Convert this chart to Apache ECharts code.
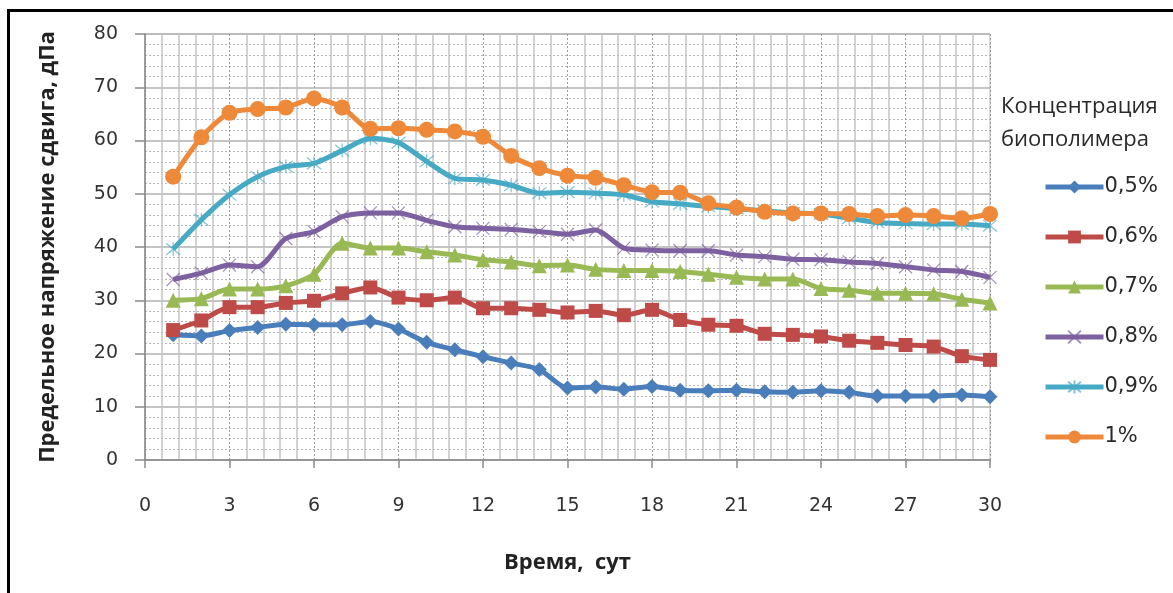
<!DOCTYPE html>
<html>
<head>
<meta charset="utf-8">
<script src="https://cdn.jsdelivr.net/npm/echarts@6/dist/echarts.min.js"></script>
<style>
  html, body { margin: 0; padding: 0; background: #fff; }
  #chart { width: 1173px; height: 593px; }
</style>
</head>
<body>
<div id="chart"></div>
<script>
// days on the x axis
var days = [1,2,3,4,5,6,7,8,9,10,11,12,13,14,15,16,17,18,19,20,21,22,23,24,25,26,27,28,29,30];

// yield stress, dPa, per biopolymer concentration
var c05 = [23.5,23.3,24.3,24.9,25.5,25.4,25.4,26.0,24.6,22.1,20.7,19.4,18.2,17.0,13.5,13.7,13.3,13.8,13.1,13.0,13.1,12.8,12.7,13.0,12.7,12.0,12.0,12.0,12.2,11.9];
var c06 = [24.4,26.2,28.7,28.7,29.5,29.9,31.3,32.4,30.5,30.0,30.5,28.5,28.5,28.2,27.7,28.0,27.2,28.2,26.3,25.4,25.2,23.7,23.5,23.2,22.4,22.0,21.6,21.3,19.5,18.8];
var c07 = [30.0,30.3,32.1,32.1,32.7,34.9,40.7,39.8,39.8,39.1,38.5,37.6,37.2,36.5,36.6,35.8,35.6,35.6,35.4,34.9,34.3,34.0,34.0,32.2,31.9,31.3,31.3,31.2,30.2,29.5];
var c08 = [33.9,35.1,36.6,36.3,41.6,42.9,45.7,46.4,46.4,45.0,43.8,43.5,43.3,42.9,42.4,43.2,39.8,39.4,39.3,39.3,38.5,38.2,37.7,37.6,37.2,36.9,36.3,35.7,35.4,34.3];
var c09 = [39.6,45.1,49.8,53.2,55.1,55.7,58.1,60.4,59.6,56.1,52.9,52.6,51.6,50.1,50.3,50.1,49.8,48.5,48.1,47.6,47.2,46.8,46.4,46.2,45.4,44.6,44.4,44.3,44.3,44.0];
var c10 = [53.2,60.6,65.2,65.9,66.2,67.9,66.2,62.2,62.3,62.0,61.7,60.7,57.1,54.8,53.4,53.0,51.6,50.3,50.2,48.2,47.4,46.6,46.3,46.3,46.2,45.8,46.0,45.8,45.4,46.2];

var seriesNames = ['0,5%', '0,6%', '0,7%', '0,8%', '0,9%', '1%'];
var seriesValues = [c05, c06, c07, c08, c09, c10];
var xTicks = [0, 3, 6, 9, 12, 15, 18, 21, 24, 27, 30];

var colors = ['#4A7EBB', '#BE4B48', '#98B954', '#7D60A0', '#46AAC5', '#EE893A'];
var symbols = [
  'diamond',
  'rect',
  'triangle',
  'path://M0,0L10,10M10,0L0,10',
  'path://M0,0L10,10M10,0L0,10M5,-1L5,11',
  'circle'
];
var sizes = [15, 14, 15, 13, 14, 16];

var font = 'Open Sans, Noto Sans, sans-serif';
var tickFont = 'DejaVu Sans, sans-serif';

var chart = echarts.init(document.getElementById('chart'));

var series = seriesNames.map(function (name, i) {
  var strokeOnly = i === 3 || i === 4;
  return {
    name: name,
    type: 'line',
    data: days.map(function (d, k) { return [d, seriesValues[i][k]]; }),
    symbol: symbols[i],
    symbolSize: sizes[i],
    showSymbol: true,
    smooth: 0.25,
    z: 10 + i,
    lineStyle: { color: colors[i], width: 5 },
    itemStyle: strokeOnly
      ? { color: 'rgba(0,0,0,0)', borderColor: colors[i], borderWidth: 1.2, opacity: 0.7 }
      : { color: colors[i], borderWidth: 0 },
    emphasis: { disabled: true }
  };
});

chart.setOption({
  backgroundColor: '#ffffff',
  animation: false,
  title: {
    text: 'Концентрация\nбиополимера',
    left: 996,
    top: 85,
    textStyle: {
      fontFamily: font,
      fontSize: 22,
      fontWeight: 'normal',
      color: '#2a2a2a',
      lineHeight: 33
    }
  },
  legend: {
    orient: 'vertical',
    left: 1038,
    top: 171,
    itemWidth: 58,
    itemHeight: 16,
    itemGap: 28,
    lineStyle: { width: 5 },
    textStyle: { fontFamily: tickFont, fontSize: 21, color: '#2a2a2a', lineHeight: 22, padding: [0, 0, 0, -4] },
    data: seriesNames
  },
  graphic: [{
    type: 'polyline',
    shape: { points: [[8.5, 600], [8.5, 10.5], [1180, 10.5]] },
    style: { stroke: '#000', lineWidth: 3, fill: null },
    silent: true
  }],
  grid: {
    left: 145,
    right: 183,
    top: 34,
    bottom: 133,
    show: true,
    borderColor: '#b5b5b5',
    borderWidth: 1
  },
  xAxis: {
    type: 'value',
    min: 0,
    max: 30,
    interval: 3,
    name: 'Время,  сут',
    nameLocation: 'middle',
    nameGap: 92,
    nameTextStyle: { fontFamily: font, fontSize: 22, fontWeight: 'bold', color: '#222' },
    axisLine: { onZero: false, lineStyle: { color: '#8a8a8a', width: 1.5 } },
    axisTick: { show: true, length: 8, lineStyle: { color: '#8a8a8a', width: 1.5 } },
    minorTick: { show: false, splitNumber: 5 },
    axisLabel: {
      margin: 37,
      fontFamily: tickFont,
      fontSize: 19,
      color: '#333',
      formatter: function (v) { return xTicks.indexOf(v) >= 0 ? String(v) : ''; }
    },
    splitLine: { show: true, lineStyle: { color: '#9a9a9a', type: [2, 2], width: 1 } },
    minorSplitLine: { show: true, lineStyle: { color: '#c4c4c4', width: 1.5 } }
  },
  yAxis: {
    type: 'value',
    min: 0,
    max: 80,
    interval: 10,
    name: 'Предельное напряжение сдвига, дПа',
    nameLocation: 'middle',
    nameGap: 86,
    nameTextStyle: { fontFamily: font, fontSize: 22, fontWeight: 'bold', color: '#222' },
    axisLine: { show: true, lineStyle: { color: '#8a8a8a', width: 1.5 } },
    axisTick: { show: true, length: 10, lineStyle: { color: '#8a8a8a', width: 1.5 } },
    minorTick: { show: false, splitNumber: 5 },
    axisLabel: { margin: 27, fontFamily: tickFont, fontSize: 19, color: '#333' },
    splitLine: { show: true, lineStyle: { color: '#b0b0b0', width: 1.5 } },
    minorSplitLine: { show: true, lineStyle: { color: '#b5b5b5', type: [2, 2], width: 1 } }
  },
  series: series
});

window.addEventListener('resize', function () {
  chart.resize();
});
</script>
</body>
</html>
